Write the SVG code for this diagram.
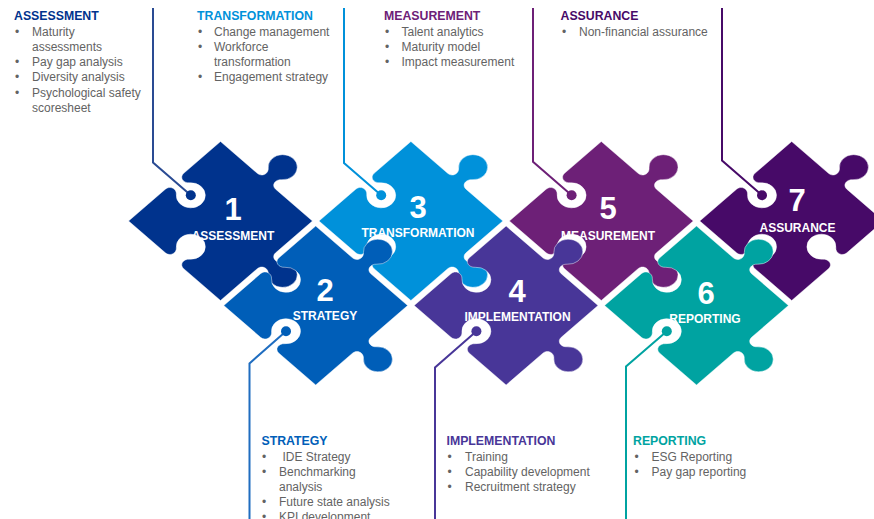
<svg xmlns="http://www.w3.org/2000/svg" xmlns:xlink="http://www.w3.org/1999/xlink" width="874" height="519" viewBox="0 0 874 519">
<style>
.pc{stroke:#ffffff;stroke-opacity:0.45;stroke-width:1;vector-effect:non-scaling-stroke;stroke-linejoin:round}
.h{font-family:"Liberation Sans",Arial,sans-serif;font-weight:bold;font-size:12.3px}
.b{font-family:"Liberation Sans",Arial,sans-serif;font-size:12px;fill:#636363}
.num{font-family:"Liberation Sans",Arial,sans-serif;font-weight:bold;font-size:31px;fill:#ffffff;text-anchor:middle}
.lbl{font-family:"Liberation Sans",Arial,sans-serif;font-weight:bold;font-size:12px;fill:#ffffff;text-anchor:middle}
.ln{fill:none;stroke-width:2}
</style>
<defs>
<path id="pc" class="pc" d="M -65,-65 L -13,-65 C -6.5,-65 -4.45,-72.7 -9.45,-77 A 14.5 14.5 0 1 1 9.45,-77 C 4.45,-72.7 6.5,-65 13,-65 L 65,-65 L 65,-13 C 65,-6.5 72.7,-4.45 77,-9.45 A 14.5 14.5 0 1 1 77,9.45 C 72.7,4.45 65,6.5 65,13 L 65,65 L 13,65 C 6.5,65 4.45,57.3 9.45,53 A 14.5 14.5 0 1 0 -9.45,53 C -4.45,57.3 -6.5,65 -13,65 L -65,65 L -65,13 C -65,6.5 -57.3,4.45 -53,9.45 A 14.5 14.5 0 1 0 -53,-9.45 C -57.3,-4.45 -65,-6.5 -65,-13 Z"/>
<path id="pc7" class="pc" d="M -65,-65 L -13,-65 C -6.5,-65 -4.45,-72.7 -9.45,-77 A 14.5 14.5 0 1 1 9.45,-77 C 4.45,-72.7 6.5,-65 13,-65 L 65,-65 L 65,-13 C 65,-6.5 57.3,-4.45 53,-9.45 A 14.5 14.5 0 1 0 53,9.45 C 57.3,4.45 65,6.5 65,13 L 65,65 L 13,65 C 6.5,65 4.45,57.3 9.45,53 A 14.5 14.5 0 1 0 -9.45,53 C -4.45,57.3 -6.5,65 -13,65 L -65,65 L -65,13 C -65,6.5 -57.3,4.45 -53,9.45 A 14.5 14.5 0 1 0 -53,-9.45 C -57.3,-4.45 -65,-6.5 -65,-13 Z"/>
</defs>

<g id="piece1">
<use xlink:href="#pc" href="#pc" fill="#00338D" transform="translate(220.5,221) scale(1,0.865) rotate(45)"/>
<text class="num" x="233" y="220">1</text>
<text class="lbl" x="233" y="240">ASSESSMENT</text>
</g>
<g id="piece3">
<use xlink:href="#pc" href="#pc" fill="#0091DA" transform="translate(410.9,221) scale(1,0.865) rotate(45)"/>
<text class="num" x="418" y="218">3</text>
<text class="lbl" x="418" y="237">TRANSFORMATION</text>
</g>
<g id="piece5">
<use xlink:href="#pc" href="#pc" fill="#6D2077" transform="translate(601.3,221) scale(1,0.865) rotate(45)"/>
<text class="num" x="608" y="219">5</text>
<text class="lbl" x="608" y="240">MEASUREMENT</text>
</g>
<g id="piece7">
<use xlink:href="#pc7" href="#pc7" fill="#470A68" transform="translate(791.7,221) scale(1,0.865) rotate(45)"/>
<text class="num" x="797" y="211">7</text>
<text class="lbl" x="797.5" y="232">ASSURANCE</text>
</g>
<g id="piece2">
<use xlink:href="#pc" href="#pc" fill="#005EB8" transform="translate(315.7,305.5) scale(1,0.865) rotate(45)"/>
<text class="num" x="325" y="300.5">2</text>
<text class="lbl" x="325" y="320">STRATEGY</text>
</g>
<g id="piece4">
<use xlink:href="#pc" href="#pc" fill="#483698" transform="translate(506.1,305.5) scale(1,0.865) rotate(45)"/>
<text class="num" x="517" y="301.5">4</text>
<text class="lbl" x="517.5" y="320.5">IMPLEMENTATION</text>
</g>
<g id="piece6">
<use xlink:href="#pc" href="#pc" fill="#00A3A1" transform="translate(696.5,305.5) scale(1,0.865) rotate(45)"/>
<text class="num" x="706" y="304">6</text>
<text class="lbl" x="705" y="323">REPORTING</text>
</g>

<g id="connectors">
<path class="ln" stroke="#2A4B93" d="M153,8 V162.5 L190.8,195.3"/>
<circle cx="190.8" cy="195.3" r="5" fill="#00338D"/>
<path class="ln" stroke="#0091DA" d="M344,8 V163 L381.2,195.3"/>
<circle cx="381.2" cy="195.3" r="5" fill="#0091DA"/>
<path class="ln" stroke="#6D2077" d="M533,8 V161.8 L571.6,195.3"/>
<circle cx="571.6" cy="195.3" r="5" fill="#6D2077"/>
<path class="ln" stroke="#470A68" d="M722,8 V160.5 L762,195.3"/>
<circle cx="762" cy="195.3" r="5" fill="#470A68"/>
<path class="ln" stroke="#1F6DC0" d="M249.5,519 V363.4 L286,331.2"/>
<circle cx="286" cy="331.2" r="5" fill="#005EB8"/>
<path class="ln" stroke="#483698" d="M435,519 V367.4 L476.4,331.2"/>
<circle cx="476.4" cy="331.2" r="5" fill="#483698"/>
<path class="ln" stroke="#00A3A1" d="M626,519 V366.5 L666.8,331.2"/>
<circle cx="666.8" cy="331.2" r="5" fill="#00A3A1"/>
</g>

<g id="text-assessment">
<text class="h" x="14" y="20" fill="#00338D">ASSESSMENT</text>
<text class="b" x="15" y="36">•</text><text class="b" x="32" y="36">Maturity</text>
<text class="b" x="32" y="51">assessments</text>
<text class="b" x="15" y="66">•</text><text class="b" x="32" y="66">Pay gap analysis</text>
<text class="b" x="15" y="81">•</text><text class="b" x="32" y="81">Diversity analysis</text>
<text class="b" x="15" y="97">•</text><text class="b" x="32" y="97">Psychological safety</text>
<text class="b" x="32" y="112">scoresheet</text>
</g>
<g id="text-transformation">
<text class="h" x="197" y="20" fill="#0091DA">TRANSFORMATION</text>
<text class="b" x="198" y="36">•</text><text class="b" x="214" y="36">Change management</text>
<text class="b" x="198" y="51">•</text><text class="b" x="214" y="51">Workforce</text>
<text class="b" x="214" y="66">transformation</text>
<text class="b" x="198" y="81">•</text><text class="b" x="214" y="81">Engagement strategy</text>
</g>
<g id="text-measurement">
<text class="h" x="384" y="20" fill="#6D2077">MEASUREMENT</text>
<text class="b" x="385" y="36">•</text><text class="b" x="401.5" y="36">Talent analytics</text>
<text class="b" x="385" y="51">•</text><text class="b" x="401.5" y="51">Maturity  model</text>
<text class="b" x="385" y="66">•</text><text class="b" x="401.5" y="66">Impact measurement</text>
</g>
<g id="text-assurance">
<text class="h" x="560.5" y="20" fill="#470A68">ASSURANCE</text>
<text class="b" x="562" y="36">•</text><text class="b" x="579" y="36">Non-financial assurance</text>
</g>
<g id="text-strategy">
<text class="h" x="261.5" y="445" fill="#005EB8">STRATEGY</text>
<text class="b" x="262" y="460.5">•</text><text class="b" x="282.5" y="460.5">IDE Strategy</text>
<text class="b" x="262" y="475.5">•</text><text class="b" x="279" y="475.5">Benchmarking</text>
<text class="b" x="279" y="490.5">analysis</text>
<text class="b" x="262" y="505.5">•</text><text class="b" x="279" y="505.5">Future state analysis</text>
<text class="b" x="262" y="520.5">•</text><text class="b" x="279" y="520.5">KPI development</text>
</g>
<g id="text-implementation">
<text class="h" x="446.5" y="445" fill="#483698">IMPLEMENTATION</text>
<text class="b" x="447.5" y="460.5">•</text><text class="b" x="465" y="460.5">Training</text>
<text class="b" x="447.5" y="475.5">•</text><text class="b" x="465" y="475.5">Capability development</text>
<text class="b" x="447.5" y="490.5">•</text><text class="b" x="465" y="490.5">Recruitment strategy</text>
</g>
<g id="text-reporting">
<text class="h" x="633" y="445" fill="#00A3A1">REPORTING</text>
<text class="b" x="634.5" y="460.5">•</text><text class="b" x="651.5" y="460.5">ESG Reporting</text>
<text class="b" x="634.5" y="475.5">•</text><text class="b" x="651.5" y="475.5">Pay gap reporting</text>
</g>
</svg>
